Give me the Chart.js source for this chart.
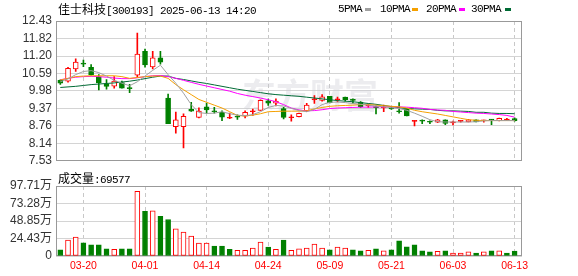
<!DOCTYPE html>
<html>
<head>
<meta charset="utf-8">
<script src="https://cdn.jsdelivr.net/npm/chart.js@4.4.0/dist/chart.umd.min.js"></script>
<style>
body{margin:0;background:#fff;width:578px;height:276px;position:relative;overflow:hidden}
canvas{position:absolute;left:0}
#priceChart{top:0}
#volChart{top:172px}
.txt{position:absolute;white-space:nowrap;line-height:14px;color:#000}
.cn{font-family:"Noto Sans CJK SC";font-size:12px}
.en{font-family:"Liberation Mono";font-size:11px;letter-spacing:-0.6px}
.sw{position:absolute;width:6px;height:3px;top:8px}
</style>
</head>
<body>
<canvas id="priceChart" width="578" height="172"></canvas>
<canvas id="volChart" width="578" height="104"></canvas>
<div class="txt" style="left:58px;top:2px"><span class="cn">佳士科技</span><span class="en">[300193] 2025-06-13 14:20</span></div>
<div class="txt en" style="left:338px;top:2px">5PMA</div><div class="sw" style="left:365px;background:#a0a0a0"></div>
<div class="txt en" style="left:380px;top:2px">10PMA</div><div class="sw" style="left:412px;background:#f5a000"></div>
<div class="txt en" style="left:426px;top:2px">20PMA</div><div class="sw" style="left:459px;background:#ff00ff"></div>
<div class="txt en" style="left:471px;top:2px">30PMA</div><div class="sw" style="left:505px;background:#006b35"></div>
<div class="txt" style="left:58px;top:171px"><span class="cn">成交量</span><span class="en">:69577</span></div>
<script>
// 交易日 (60根K线)
const dates = ['03-17','03-18','03-19','03-20','03-21','03-24','03-25','03-26','03-27','03-28','03-31',
  '04-01','04-02','04-03','04-07','04-08','04-09','04-10','04-11','04-14','04-15','04-16','04-17','04-18',
  '04-21','04-22','04-23','04-24','04-25','04-28','04-29','04-30',
  '05-06','05-07','05-08','05-09','05-12','05-13','05-14','05-15','05-16','05-19','05-20','05-21','05-22',
  '05-23','05-26','05-27','05-28','05-29','05-30',
  '06-03','06-04','06-05','06-06','06-09','06-10','06-11','06-12','06-13'];
const labelIdx = [3, 11, 19, 27, 35, 43, 51, 59];

const open = [10.35,10.32,10.75,10.93,10.81,10.47,10.23,10.15,10.27,10.07,10.53,11.37,10.82,11.14,9.73,8.73,8.73,9.33,9.05,9.42,
  9.26,9.23,9.02,9.07,9.09,9.25,9.30,9.63,9.55,9.36,9.04,9.08,9.29,9.67,9.65,9.79,9.67,9.76,9.66,9.58,
  9.45,9.43,9.38,9.39,9.26,9.34,8.91,8.93,8.89,8.88,8.97,8.86,8.91,8.89,8.97,8.93,8.97,8.94,8.96,9.01];
const close = [10.25,10.77,10.99,10.92,10.55,10.26,10.14,10.32,10.08,10.06,11.27,10.89,11.14,10.99,8.83,8.97,9.09,9.27,9.27,9.31,
  9.25,9.06,9.03,9.06,9.23,9.26,9.65,9.55,9.62,9.05,9.05,9.19,9.48,9.68,9.77,9.57,9.68,9.67,9.65,9.43,
  9.46,9.39,9.39,9.35,9.25,9.10,8.92,8.92,8.88,8.97,8.84,8.87,8.92,8.97,8.89,8.94,8.96,9.02,8.97,8.94];
const high = [10.37,10.81,11.10,11.06,10.90,10.55,10.38,10.48,10.32,10.21,12.01,11.45,11.37,11.37,9.87,9.24,9.18,9.58,9.39,9.55,
  9.40,9.28,9.20,9.14,9.28,9.34,9.67,9.69,9.70,9.40,9.14,9.20,9.54,9.82,9.85,9.79,9.76,9.76,9.70,9.61,
  9.52,9.46,9.48,9.40,9.57,9.35,8.94,8.97,8.93,8.98,8.97,8.92,8.94,8.98,8.97,8.96,8.98,9.03,9.02,9.04];
const low = [10.21,10.29,10.66,10.83,10.53,10.01,10.04,10.08,10.08,9.92,10.46,10.81,10.75,10.92,8.83,8.50,7.98,9.26,9.03,9.20,
  9.20,8.94,9.01,8.98,9.03,9.12,9.30,9.47,9.45,9.00,8.92,9.07,9.25,9.54,9.62,9.56,9.59,9.62,9.54,9.40,
  9.40,9.17,9.25,9.33,9.20,9.10,8.75,8.83,8.83,8.87,8.80,8.79,8.88,8.89,8.89,8.88,8.80,8.93,8.94,8.92];

const ma5 = [10.30,10.40,10.55,10.66,10.69,10.62,10.50,10.35,10.25,10.16,10.30,10.50,10.70,10.88,10.55,10.25,9.90,9.50,9.22,9.19,
  9.20,9.25,9.18,9.13,9.11,9.15,9.25,9.40,9.47,9.45,9.37,9.29,9.25,9.33,9.50,9.58,9.59,9.57,9.54,9.51,
  9.48,9.45,9.42,9.39,9.36,9.30,9.20,9.09,8.97,8.90,8.89,8.89,8.89,8.89,8.90,8.93,8.94,8.94,8.94,8.94];
const ma10 = [10.36,10.42,10.48,10.50,10.51,10.51,10.51,10.51,10.48,10.42,10.45,10.48,10.50,10.50,10.42,10.20,10.02,9.85,9.68,9.58,
  9.48,9.38,9.25,9.12,9.10,9.13,9.18,9.25,9.26,9.27,9.27,9.27,9.28,9.35,9.40,9.44,9.46,9.47,9.48,9.50,
  9.50,9.48,9.46,9.44,9.42,9.38,9.30,9.25,9.21,9.17,9.12,9.07,9.02,8.97,8.95,8.94,8.94,8.94,8.94,8.94];
const ma20 = [10.37,10.42,10.46,10.48,10.49,10.48,10.46,10.43,10.41,10.41,10.44,10.48,10.51,10.52,10.48,10.42,10.35,10.28,10.21,10.15,
  10.09,10.03,9.97,9.89,9.83,9.78,9.73,9.67,9.60,9.50,9.38,9.31,9.28,9.29,9.32,9.36,9.38,9.39,9.40,9.41,
  9.41,9.42,9.42,9.42,9.42,9.41,9.39,9.37,9.33,9.31,9.30,9.26,9.24,9.22,9.20,9.19,9.17,9.15,9.12,9.06];
const ma30 = [10.10,10.12,10.14,10.17,10.20,10.22,10.24,10.26,10.29,10.32,10.36,10.41,10.46,10.50,10.50,10.42,10.38,10.33,10.28,10.24,
  10.19,10.14,10.09,10.04,10.00,9.96,9.92,9.88,9.85,9.83,9.81,9.79,9.76,9.73,9.70,9.67,9.64,9.62,9.60,9.57,
  9.54,9.51,9.47,9.43,9.39,9.36,9.35,9.34,9.33,9.30,9.28,9.28,9.27,9.26,9.23,9.23,9.20,9.19,9.19,9.18];

// 成交量 (万手)
const volume = [8.5,22.2,26.4,18.4,15.6,15.6,9.9,9.4,9.9,9.9,90.1,62.3,63.2,55.2,51.0,37.8,33.5,27.8,17.9,17.9,
  13.7,13.7,9.4,8.0,8.0,10.9,19.3,12.3,9.4,22.2,8.0,9.9,10.9,16.5,10.9,8.5,12.3,10.9,8.5,7.1,
  8.0,9.9,7.1,8.5,21.2,12.7,15.6,7.1,5.7,6.6,7.1,4.2,4.2,5.7,4.2,5.7,7.1,7.1,4.2,6.96];
const volUp = [0,1,1,0,0,0,0,1,0,0,1,0,1,0,0,1,1,1,1,1,0,0,0,1,1,1,1,0,1,0,
  1,1,1,1,1,0,1,1,0,0,1,0,1,0,0,0,0,0,0,1,0,1,1,1,0,1,0,1,0,0];

const priceTicks = [7.53, 8.14, 8.76, 9.37, 9.98, 10.59, 11.20, 11.82, 12.43];
const volTicks = [0, 24.43, 48.85, 73.28, 97.71];

const RED = '#ff0000', GREEN = '#008000';
const up = open.map((o, i) => close[i] >= o);
const candleColor = up.map(u => u ? RED : GREEN);
const bodyFill = up.map((u, i) => u ? (Math.abs(close[i] - open[i]) < 0.03 ? RED : '#ffffff') : GREEN);

const frame = {
  id: 'frame',
  beforeDatasetsDraw(c) {
    const a = c.chartArea, ctx = c.ctx;
    ctx.save();
    ctx.strokeStyle = '#999';
    ctx.lineWidth = 1;
    ctx.strokeRect(Math.round(a.left) + 0.5, Math.round(a.top) + 0.5,
      Math.round(a.right - a.left) - 1, Math.round(a.bottom - a.top) - 1);
    ctx.restore();
  }
};

const watermark = {
  id: 'watermark',
  beforeDatasetsDraw(c) {
    const ctx = c.ctx;
    ctx.save();
    ctx.fillStyle = 'rgba(200,200,210,0.35)';
    ctx.font = 'bold 34px "Noto Sans CJK SC"';
    ctx.fillText('东方财富', 242, 108);
    ctx.restore();
  }
};

const xScale = (showLabels) => ({
  type: 'linear', min: -0.56, max: 59.96, offset: false,
  afterBuildTicks: s => { s.ticks = labelIdx.map(v => ({ value: v })); },
  afterFit: s => { s.height = showLabels ? 20 : 0; },
  ticks: {
    display: showLabels, color: RED, padding: 4, autoSkip: false, maxRotation: 0,
    font: { family: 'Liberation Sans', size: 10.5 },
    callback: v => dates[v]
  },
  grid: { color: '#c8c8c8', drawTicks: false, offset: false },
  border: { display: false, dash: [4, 3] }
});

const yFont = { family: 'Liberation Sans, "Noto Sans CJK SC"', size: 12 };

new Chart(document.getElementById('priceChart'), {
  type: 'bar',
  data: {
    datasets: [
      { type: 'line', data: ma5.map((v, i) => ({ x: i, y: v })), borderColor: '#a0a0a0', borderWidth: 1, pointRadius: 0, order: 1 },
      { type: 'line', data: ma10.map((v, i) => ({ x: i, y: v })), borderColor: '#f5a000', borderWidth: 1, pointRadius: 0, order: 2 },
      { type: 'line', data: ma20.map((v, i) => ({ x: i, y: v })), borderColor: '#ff00ff', borderWidth: 1, pointRadius: 0, order: 3 },
      { type: 'line', data: ma30.map((v, i) => ({ x: i, y: v })), borderColor: '#006b35', borderWidth: 1, pointRadius: 0, order: 4 },
      {
        data: open.map((o, i) => ({ x: i, y: [o, close[i]] })),
        backgroundColor: bodyFill, borderColor: candleColor, borderWidth: 1, borderSkipped: false,
        barThickness: 5, minBarLength: 1, grouped: false, order: 5
      },
      {
        data: low.map((l, i) => ({ x: i, y: [l, high[i]] })),
        backgroundColor: candleColor, borderWidth: 0,
        barThickness: 1, grouped: false, order: 6
      }
    ]
  },
  options: {
    responsive: false, animation: false, devicePixelRatio: 1,
    layout: { padding: { left: 0, right: 56, top: 21, bottom: 6 } },
    plugins: { legend: { display: false }, tooltip: { enabled: false } },
    scales: {
      x: xScale(false),
      y: {
        min: 7.53, max: 12.43,
        afterBuildTicks: s => { s.ticks = priceTicks.map(v => ({ value: v })); },
        afterFit: s => { s.width = 56; },
        ticks: { color: '#333', font: yFont, padding: 4, callback: v => v.toFixed(2) },
        grid: { color: '#d4d4d4', drawTicks: false },
        border: { display: false }
      }
    }
  },
  plugins: [watermark, frame]
});

new Chart(document.getElementById('volChart'), {
  type: 'bar',
  data: {
    datasets: [{
      data: volume.map((v, i) => ({ x: i, y: v })),
      backgroundColor: volUp.map(u => u ? '#ffffff' : GREEN),
      borderColor: volUp.map(u => u ? RED : GREEN),
      borderWidth: 1, borderSkipped: false, barThickness: 5
    }]
  },
  options: {
    responsive: false, animation: false, devicePixelRatio: 1,
    layout: { padding: { left: 0, right: 56, top: 14, bottom: 0 } },
    plugins: { legend: { display: false }, tooltip: { enabled: false } },
    scales: {
      x: xScale(true),
      y: {
        min: 0, max: 97.71,
        afterBuildTicks: s => { s.ticks = volTicks.map(v => ({ value: v })); },
        afterFit: s => { s.width = 56; },
        ticks: { color: '#333', font: yFont, padding: 4, callback: v => v === 0 ? '0' : v.toFixed(2) + '万' },
        grid: { color: '#d4d4d4', drawTicks: false },
        border: { display: false }
      }
    }
  },
  plugins: [frame]
});
</script>
</body>
</html>
